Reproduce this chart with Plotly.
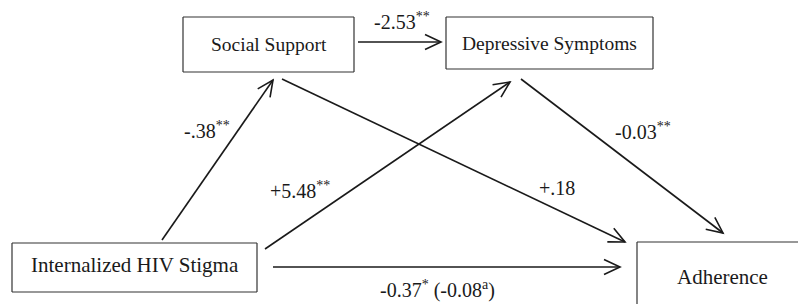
import math
import plotly.graph_objects as go

# ---- data ----
nodes = ["Internalized HIV Stigma", "Social Support", "Depressive Symptoms", "Adherence"]
edge_from = ["Internalized HIV Stigma", "Social Support", "Internalized HIV Stigma",
             "Social Support", "Depressive Symptoms", "Internalized HIV Stigma"]
edge_to = ["Social Support", "Depressive Symptoms", "Depressive Symptoms",
           "Adherence", "Adherence", "Adherence"]
coefficients = ["-.38", "-2.53", "+5.48", "+.18", "-0.03", "-0.37"]
significance = ["**", "**", "**", "", "**", "*"]
indirect_note = ["", "", "", "", "", "-0.08"]
indirect_mark = ["", "", "", "", "", "a"]

# ---- layout geometry (pixels, y downward) ----
box_geom = {
    "Internalized HIV Stigma": (12, 243, 257, 292),
    "Social Support": (183, 17, 354, 72),
    "Depressive Symptoms": (446, 17, 653, 69),
    "Adherence": (637, 242, 830, 330),
}
box_text_pos = {
    "Internalized HIV Stigma": (134.5, 265),
    "Social Support": (269, 44),
    "Depressive Symptoms": (549.5, 43),
    "Adherence": (722, 277),
}
box_font = {
    "Internalized HIV Stigma": 21,
    "Social Support": 19.5,
    "Depressive Symptoms": 19.5,
    "Adherence": 21,
}
edge_start = [(162, 240), (358, 42), (265, 249), (282, 79), (521, 79), (273, 267)]
edge_end = [(273, 80), (441, 42), (510, 82), (625, 242), (723, 233), (620, 267)]
label_pos = [(182, 130), (372, 21), (268, 190), (537, 188), (613, 131), (378, 289)]

INK = "#1a1a1a"
BOX = "#333333"
FONT = "Liberation Serif"
W, H = 798, 304

fig = go.Figure()
fig.add_trace(go.Scatter(x=[1, W - 1], y=[1, H - 1], mode="markers",
                         marker=dict(opacity=0, size=1), hoverinfo="skip", showlegend=False))

shapes = []
annotations = []


def seg(xa, ya, xb, yb, color, width):
    return dict(type="line", xref="x", yref="y", x0=xa, y0=ya, x1=xb, y1=yb,
                line=dict(color=color, width=width))


for name in nodes:
    x0, y0, x1, y1 = box_geom[name]
    xr, yb = min(x1, W), min(y1, H)
    shapes.append(seg(x0, y0, xr, y0, BOX, 1.2))          # top
    shapes.append(seg(x0, y0, x0, yb, BOX, 1.2))          # left
    if x1 <= W:
        shapes.append(seg(x1, y0, x1, yb, BOX, 1.2))      # right
    if y1 <= H:
        shapes.append(seg(x0, y1, xr, y1, BOX, 1.2))      # bottom
    tx, ty = box_text_pos[name]
    annotations.append(dict(x=tx, y=ty, xref="x", yref="y", text=name, showarrow=False,
                            xanchor="center", yanchor="middle",
                            font=dict(family=FONT, size=box_font[name], color=INK)))

HEAD_L, HEAD_W = 16, 7.5
for i in range(len(edge_from)):
    (sx, sy), (ex, ey) = edge_start[i], edge_end[i]
    shapes.append(seg(sx, sy, ex, ey, INK, 1.6))
    dx, dy = ex - sx, ey - sy
    n = math.hypot(dx, dy)
    ux, uy = dx / n, dy / n
    px, py = -uy, ux
    bx, by = ex - HEAD_L * ux, ey - HEAD_L * uy
    p1 = (bx + HEAD_W * px, by + HEAD_W * py)
    p2 = (bx - HEAD_W * px, by - HEAD_W * py)
    shapes.append(dict(type="path", xref="x", yref="y",
                       path=f"M {p1[0]:.2f} {p1[1]:.2f} L {ex} {ey} L {p2[0]:.2f} {p2[1]:.2f}",
                       line=dict(color=INK, width=1.6)))
    txt = coefficients[i]
    if significance[i]:
        txt += f"<sup>{significance[i]}</sup>"
    if indirect_note[i]:
        txt += f" ({indirect_note[i]}<sup>{indirect_mark[i]}</sup>)"
    lx, ly = label_pos[i]
    annotations.append(dict(x=lx, y=ly, xref="x", yref="y", text=txt, showarrow=False,
                            xanchor="left", yanchor="middle",
                            font=dict(family=FONT, size=20, color=INK)))

fig.update_layout(
    width=W, height=H, margin=dict(l=0, r=0, t=0, b=0),
    paper_bgcolor="white", plot_bgcolor="white",
    xaxis=dict(range=[0, W], visible=False, fixedrange=True),
    yaxis=dict(range=[H, 0], visible=False, fixedrange=True),
    shapes=shapes, annotations=annotations, showlegend=False,
)

fig.write_html("out.html", config={"displayModeBar": False},
               post_script="document.body.style.margin='0';document.body.style.overflow='hidden';")
